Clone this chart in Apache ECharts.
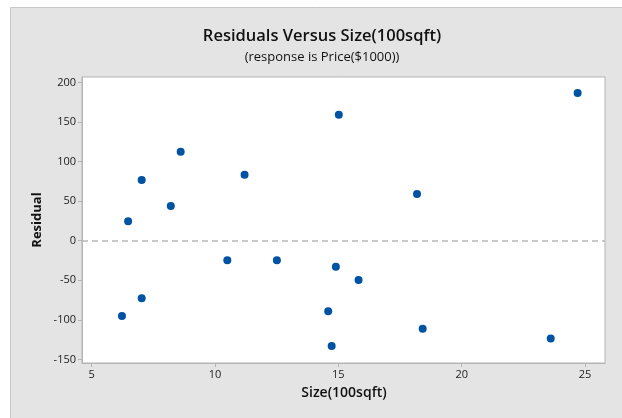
<!DOCTYPE html>
<html>
<head>
<meta charset="utf-8">
<script src="https://cdn.jsdelivr.net/npm/echarts@6/dist/echarts.min.js"></script>
<style>html,body{margin:0;padding:0;background:#fff;}#c{width:622px;height:418px;}</style>
</head>
<body>
<div id="c"></div>
<script>
const sizeValues = [6.48, 7.03, 8.21, 8.61, 11.2, 10.5, 12.51, 7.03, 6.23, 15.02, 18.19, 24.70, 14.90, 15.82, 14.59, 14.73, 18.42, 23.61];
const residualValues = [24.5, 76.7, 43.8, 112.5, 83.4, -24.8, -24.8, -72.8, -95.1, 159.2, 59.0, 186.6, -32.8, -49.7, -89.2, -133.0, -111.2, -123.4];
const xTicks = [5, 10, 15, 20, 25];
const yTicks = [-150, -100, -50, 0, 50, 100, 150, 200];
const titleText = 'Residuals Versus Size(100sqft)';
const subtitleText = '(response is Price($1000))';
const xName = 'Size(100sqft)';
const yName = 'Residual';

const points = sizeValues.map((x, i) => [x, residualValues[i]]);
const FONT = '"Open Sans", "Noto Sans", sans-serif';

const chart = echarts.init(document.getElementById('c'), null, {renderer: 'canvas'});
chart.setOption({
  animation: false,
  backgroundColor: '#ffffff',
  graphic: [
    {type: 'rect', z: -10, shape: {x: 10.5, y: 7.5, width: 700, height: 500},
     style: {fill: '#e4e4e4', stroke: '#c8c8c8', lineWidth: 1}},
    {type: 'text', x: 322, y: 36, style: {text: titleText, font: '600 16.5px ' + FONT, fill: '#111', textAlign: 'center', textVerticalAlign: 'middle'}},
    {type: 'text', x: 322, y: 57.5, style: {text: subtitleText, font: '13px ' + FONT, fill: '#111', textAlign: 'center', textVerticalAlign: 'middle'}},
    {type: 'text', x: 344, y: 393, style: {text: xName, font: '600 14px ' + FONT, fill: '#111', textAlign: 'center', textVerticalAlign: 'middle'}},
    {type: 'text', x: 37, y: 220, rotation: Math.PI / 2, style: {text: yName, font: 'bold 13px ' + FONT, fill: '#111', textAlign: 'center', textVerticalAlign: 'middle'}}
  ],
  grid: {left: 82, top: 77, width: 523, height: 286, show: true, backgroundColor: '#ffffff', borderColor: '#b4b4b4', borderWidth: 1},
  xAxis: {
    type: 'value', min: 4.61, max: 25.81,
    splitLine: {show: false},
    axisLine: {show: true, onZero: false, lineStyle: {color: '#b4b4b4'}},
    axisTick: {show: true, length: 4, lineStyle: {color: '#b4b4b4'}, customValues: xTicks},
    axisLabel: {color: '#222', fontSize: 11, fontFamily: FONT, margin: 6, customValues: xTicks}
  },
  yAxis: {
    type: 'value', min: -154.5, max: 206.8,
    splitLine: {show: false},
    axisLine: {show: true, onZero: false, lineStyle: {color: '#b4b4b4'}},
    axisTick: {show: true, length: 4, lineStyle: {color: '#b4b4b4'}, customValues: yTicks},
    axisLabel: {color: '#222', fontSize: 11, fontFamily: FONT, margin: 6, customValues: yTicks}
  },
  series: [{
    type: 'scatter',
    data: points,
    symbol: 'circle',
    symbolSize: 8,
    itemStyle: {color: '#0052a3', opacity: 1},
    markLine: {
      silent: true, symbol: 'none', label: {show: false},
      lineStyle: {color: '#b8b8b8', type: [6, 4], width: 1.5, opacity: 1},
      data: [{yAxis: 0}]
    },
    z: 5
  }]
});
</script>
</body>
</html>
